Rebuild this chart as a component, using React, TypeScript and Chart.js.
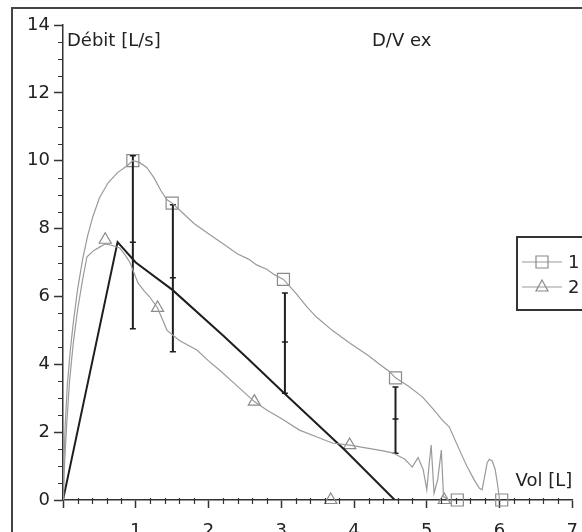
import React, { useEffect, useRef } from 'react';
import { Chart, registerables } from 'chart.js';

Chart.register(...registerables);

// ---- data ----
const seriesLabels = ['1', '2'];
const chartTitle = 'D/V ex';
const yTitle = 'Débit [L/s]';
const xTitle = 'Vol [L]';

const vol1 = [0, 0.01, 0.03, 0.06, 0.1, 0.14, 0.2, 0.27, 0.34, 0.41, 0.5, 0.62, 0.75, 0.88, 0.96, 1.05, 1.15, 1.25, 1.35, 1.43, 1.5, 1.65, 1.8, 2.0, 2.2, 2.4, 2.55, 2.66, 2.8, 2.9, 3.03, 3.2, 3.35, 3.48, 3.7, 3.94, 4.2, 4.35, 4.49, 4.57, 4.75, 4.94, 5.1, 5.21, 5.31, 5.45, 5.55, 5.65, 5.72, 5.76, 5.8, 5.83, 5.86, 5.9, 5.94, 5.97, 6.0];
const flow1 = [0, 1.0, 2.2, 3.4, 4.4, 5.2, 6.2, 7.1, 7.8, 8.35, 8.9, 9.35, 9.65, 9.85, 10.0, 9.95, 9.8, 9.5, 9.1, 8.85, 8.75, 8.45, 8.15, 7.85, 7.55, 7.25, 7.1, 6.93, 6.8, 6.65, 6.5, 6.1, 5.7, 5.4, 5.0, 4.63, 4.25, 4.0, 3.78, 3.6, 3.35, 3.04, 2.65, 2.36, 2.15, 1.47, 1.0, 0.6, 0.35, 0.3, 0.75, 1.1, 1.2, 1.15, 0.9, 0.5, 0];

const vol2 = [0, 0.02, 0.05, 0.09, 0.14, 0.2, 0.27, 0.33, 0.42, 0.51, 0.58, 0.68, 0.78, 0.86, 0.92, 1.03, 1.12, 1.19, 1.3, 1.43, 1.6, 1.84, 2.0, 2.15, 2.4, 2.63, 2.8, 3.0, 3.25, 3.5, 3.7, 3.94, 4.2, 4.4, 4.53, 4.7, 4.8, 4.88, 4.95, 5.0, 5.03, 5.06, 5.1, 5.15, 5.2, 5.23, 5.3];
const flow2 = [0, 1.0, 2.2, 3.5, 4.6, 5.6, 6.5, 7.17, 7.35, 7.46, 7.55, 7.5, 7.43, 7.2, 7.0, 6.4, 6.15, 5.99, 5.66, 5.0, 4.7, 4.42, 4.1, 3.83, 3.35, 2.9, 2.65, 2.4, 2.06, 1.85, 1.68, 1.62, 1.52, 1.45, 1.39, 1.2, 0.97, 1.25, 0.9, 0.3, 1.0, 1.62, 0.2, 0.6, 1.47, 0.1, 0];

const predVol = [0, 0.75, 1.0, 1.5, 2.2, 2.55, 3.03, 3.87, 4.56];
const predFlow = [0, 7.6, 7.0, 6.2, 4.85, 4.15, 3.17, 1.48, 0];

const squareVol = [0.96, 1.5, 3.03, 4.57, 5.42, 6.03];
const squareFlow = [10.0, 8.75, 6.5, 3.6, 0, 0];
const triVol = [0.58, 1.3, 2.63, 3.94, 3.68, 5.24];
const triFlow = [7.67, 5.66, 2.9, 1.62, 0, 0];

const barVol = [0.96, 1.51, 3.05, 4.57];
const barTop = [10.15, 8.7, 6.1, 3.33];
const barMid = [7.6, 6.55, 4.66, 2.39];
const barLow = [5.05, 4.37, 3.15, 1.38];

const xMin = 0, xMax = 7, xStep = 1, xMinorStep = 0.2;
const yMin = 0, yMax = 14, yStep = 2, yMinorStep = 0.5;

const GRAY = '#9a9a9a';
const MARK = '#8a8a8a';
const DARK = '#1e1e1e';
const FONT = '"DejaVu Sans", Verdana, sans-serif';

const pts = (xs: number[], ys: number[]) => xs.map((x, i) => ({ x, y: ys[i] }));

const overlay = {
  id: 'overlay',
  afterDraw(chart: any) {
    const { ctx, scales } = chart;
    const xs = scales.x, ys = scales.y;
    const area = chart.chartArea;
    ctx.save();
    // outer frame
    ctx.strokeStyle = '#444';
    ctx.lineWidth = 2;
    ctx.strokeRect(12, 8, 700, 700);
    // minor ticks
    ctx.strokeStyle = '#333';
    ctx.lineWidth = 1.2;
    ctx.beginPath();
    for (let v = yMin + yMinorStep; v < yMax - 1e-6; v += yMinorStep) {
      if (Math.abs(v / yStep - Math.round(v / yStep)) < 1e-6) continue;
      const p = Math.round(ys.getPixelForValue(v)) + 0.5;
      ctx.moveTo(area.left - 5, p);
      ctx.lineTo(area.left, p);
    }
    for (let v = xMin + xMinorStep; v < xMax - 1e-6; v += xMinorStep) {
      if (Math.abs(v / xStep - Math.round(v / xStep)) < 1e-6) continue;
      const p = Math.round(xs.getPixelForValue(v)) + 0.5;
      ctx.moveTo(p, area.bottom - 2);
      ctx.lineTo(p, area.bottom + 4);
    }
    ctx.stroke();
    // texts
    ctx.fillStyle = '#222';
    ctx.font = '18px ' + FONT;
    ctx.textBaseline = 'middle';
    ctx.textAlign = 'left';
    ctx.fillText(yTitle, area.left + 4, 41);
    ctx.fillText(chartTitle, 372, 41);
    ctx.textAlign = 'right';
    ctx.fillText(xTitle, area.right, 481);
    // legend
    const lx = 517, ly = 237;
    ctx.strokeStyle = '#333';
    ctx.lineWidth = 2;
    ctx.strokeRect(lx, ly, 120, 73);
    const rows = [
      { y: 262, style: 'rect' },
      { y: 287, style: 'triangle' },
    ];
    rows.forEach((r, i) => {
      ctx.strokeStyle = GRAY;
      ctx.lineWidth = 1.2;
      ctx.beginPath();
      ctx.moveTo(522, r.y);
      ctx.lineTo(562, r.y);
      ctx.stroke();
      ctx.strokeStyle = MARK;
      ctx.beginPath();
      if (r.style === 'rect') {
        ctx.rect(536, r.y - 6, 12, 12);
      } else {
        ctx.moveTo(542, r.y - 7);
        ctx.lineTo(548, r.y + 4);
        ctx.lineTo(536, r.y + 4);
        ctx.closePath();
      }
      ctx.stroke();
      ctx.fillStyle = '#222';
      ctx.textAlign = 'left';
      ctx.fillText(seriesLabels[i], 568, r.y + 1);
    });
    ctx.restore();
  },
};

export default function App() {
  const ref = useRef<HTMLCanvasElement | null>(null);
  useEffect(() => {
    if (!ref.current) return;
    const barSets = barVol.map((x, i) => ({
      label: 'bar' + i,
      data: [
        { x, y: barTop[i] },
        { x, y: barMid[i] },
        { x, y: barLow[i] },
      ],
      borderColor: DARK,
      borderWidth: 2,
      showLine: true,
      pointStyle: 'line',
      pointRadius: 3,
      pointBorderColor: DARK,
      pointBorderWidth: 1.5,
    }));
    const chart = new Chart(ref.current, {
      type: 'scatter',
      data: {
        datasets: [
          {
            label: seriesLabels[0],
            data: pts(vol1, flow1),
            showLine: true,
            borderColor: GRAY,
            borderWidth: 1.2,
            pointRadius: 0,
            tension: 0,
          },
          {
            label: seriesLabels[1],
            data: pts(vol2, flow2),
            showLine: true,
            borderColor: GRAY,
            borderWidth: 1.2,
            pointRadius: 0,
            tension: 0,
          },
          {
            label: 'pred',
            data: pts(predVol, predFlow),
            showLine: true,
            borderColor: DARK,
            borderWidth: 2,
            pointRadius: 0,
          },
          ...barSets,
          {
            label: 'm1',
            data: pts(squareVol, squareFlow),
            showLine: false,
            clip: false,
            pointStyle: 'rect',
            pointRadius: 8.5,
            pointBorderColor: MARK,
            pointBackgroundColor: 'rgba(0,0,0,0)',
            pointBorderWidth: 1.2,
          },
          {
            label: 'm2',
            data: pts(triVol, triFlow),
            showLine: false,
            clip: false,
            pointStyle: 'triangle',
            pointRadius: 7,
            pointBorderColor: MARK,
            pointBackgroundColor: 'rgba(0,0,0,0)',
            pointBorderWidth: 1.2,
          },
        ] as any,
      },
      options: {
        responsive: false,
        animation: false,
        layout: { padding: { left: 0, right: 9, top: 25, bottom: 0 } },
        plugins: { legend: { display: false }, tooltip: { enabled: false }, title: { display: false } },
        scales: {
          x: {
            type: 'linear',
            min: xMin,
            max: xMax,
            afterFit: (s: any) => {
              s.height = 32;
              s.paddingLeft = 0;
              s.paddingRight = 0;
            },
            ticks: {
              stepSize: xStep,
              autoSkip: false,
              maxRotation: 0,
              padding: 13,
              color: '#222',
              font: { family: FONT, size: 18 },
              callback: (v: any) => (v === 0 ? '' : String(v)),
            },
            grid: { drawOnChartArea: false, drawTicks: true, tickLength: 8, tickColor: '#333', tickWidth: 1.5 },
            border: { display: true, color: '#333', width: 1.5 },
          },
          y: {
            type: 'linear',
            min: yMin,
            max: yMax,
            afterFit: (s: any) => {
              s.width = 63;
              s.paddingTop = 0;
              s.paddingBottom = 0;
            },
            ticks: {
              stepSize: yStep,
              padding: 4,
              color: '#222',
              font: { family: FONT, size: 18 },
            },
            grid: { drawOnChartArea: false, drawTicks: true, tickLength: 9, tickColor: '#333', tickWidth: 1.5 },
            border: { display: true, color: '#333', width: 1.5 },
          },
        },
      } as any,
      plugins: [overlay],
    });
    return () => chart.destroy();
  }, []);
  return (
    <div style={{ position: 'absolute', left: 0, top: 0, width: 582, height: 532, background: '#fff' }}>
      <canvas ref={ref} width={582} height={532} style={{ width: 582, height: 532, display: 'block' }} />
    </div>
  );
}
